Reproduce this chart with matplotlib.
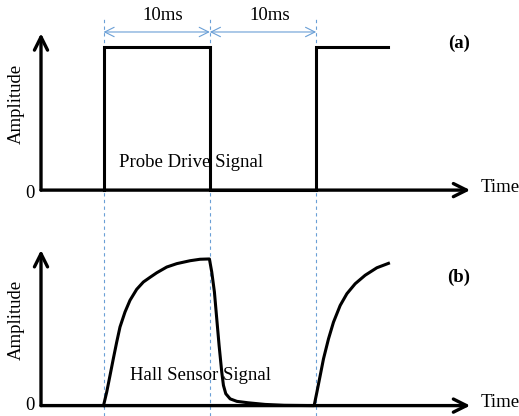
import numpy as np
import matplotlib.pyplot as plt
from matplotlib.lines import Line2D
from matplotlib import transforms

plt.rcParams["font.family"] = ["Liberation Serif", "DejaVu Serif"]
plt.rcParams["font.size"] = 13.5

# probe drive signal (time in ms, normalised amplitude)
t_drive = [0, 0, 10, 10, 20, 20, 26.8]
a_drive = [0, 1, 1, 0, 0, 1, 1]

# hall sensor signal
t_rise1 = [0, 0.30, 0.61, 0.92, 1.24, 1.55, 2.02, 2.49, 3.12, 3.75,
           4.38, 5.01, 5.95, 6.89, 8.14, 9.08, 9.96]
a_rise1 = [0, 0.092, 0.205, 0.319, 0.433, 0.536, 0.638, 0.718, 0.793, 0.843,
           0.875, 0.906, 0.945, 0.968, 0.988, 0.998, 1.0]
t_fall = [10.18, 10.43, 10.65, 10.87, 11.12, 11.28, 11.5, 11.91, 12.54,
          13.63, 15.2, 17.0, 19.81]
a_fall = [0.911, 0.775, 0.592, 0.411, 0.229, 0.138, 0.081, 0.046, 0.029,
          0.019, 0.008, 0.002, 0]
t_rise2 = [20.07, 20.38, 20.69, 21.16, 21.63, 22.26, 22.89, 23.67, 24.61,
           25.71, 26.8]
a_rise2 = [0.092, 0.205, 0.319, 0.455, 0.569, 0.683, 0.763, 0.831, 0.889,
           0.940, 0.970]

t_hall = t_rise1 + t_fall + t_rise2
a_hall = a_rise1 + a_fall + a_rise2

edges = [0, 10, 20]
period_labels = ["10ms", "10ms"]

blue = "#6a9fd6"
xlim = (-5.88, 34.49)

fig = plt.figure(figsize=(5.19, 4.16), dpi=100)
ax1 = fig.add_axes([0.079, 0.543, 0.827, 0.377])
ax2 = fig.add_axes([0.079, 0.025, 0.827, 0.374])


def draw_axes(ax, ytop, tag, tag_y, label, label_x, label_y, zero_y):
    ax.set_xlim(*xlim)
    ax.set_ylim(0, ytop)
    ax.axis("off")
    arrow = dict(arrowstyle="->,head_length=0.7,head_width=0.35", lw=2.4,
                 color="black", shrinkA=0, shrinkB=0)
    ax.annotate("", xy=(1, 0), xytext=(0, 0), xycoords="axes fraction",
                arrowprops=arrow)
    ax.annotate("", xy=(0, 1), xytext=(0, 0), xycoords="axes fraction",
                arrowprops=arrow)
    ax.text(35.5, 0.02, "Time", ha="left", va="center", clip_on=False)
    ax.text(-6.92, zero_y, "0", ha="center", va="center", clip_on=False)
    ax.text(-8.24, ytop * 0.55, "Amplitude", rotation=90, ha="center",
            va="center", clip_on=False)
    ax.text(33.4, tag_y, tag, ha="center", va="center", fontweight="bold")
    ax.text(label_x, label_y, label, ha="left", va="center")


draw_axes(ax1, 1.096, "(a)", 1.026, "Probe Drive Signal", 1.46, 0.195, -0.024)
draw_axes(ax2, 1.061, "(b)", 0.877, "Hall Sensor Signal", 2.49, 0.208, 0.003)

ax1.plot(t_drive, a_drive, color="black", lw=2.2, solid_joinstyle="miter",
         clip_on=False)
ax2.plot(t_hall, a_hall, color="black", lw=2.2, solid_joinstyle="round",
         clip_on=False)

# dashed guide lines through both panels
tr = transforms.blended_transform_factory(ax1.transData, fig.transFigure)
for e in edges:
    fig.add_artist(Line2D([e, e], [0, 0.957], transform=tr, color=blue,
                          lw=0.8, ls=(0, (3, 3)), zorder=0))

# period arrows
for i, lab in enumerate(period_labels):
    ax1.annotate("", xy=(edges[i + 1], 1.105), xytext=(edges[i], 1.105),
                 arrowprops=dict(arrowstyle="<->,head_length=0.5,head_width=0.25",
                                 color=blue, lw=0.8, shrinkA=0, shrinkB=0),
                 annotation_clip=False)
    ax1.text((edges[i] + edges[i + 1]) / 2 + 0.6, 1.221, lab, ha="center",
             va="center", clip_on=False)

plt.savefig("out.png", dpi=100)
